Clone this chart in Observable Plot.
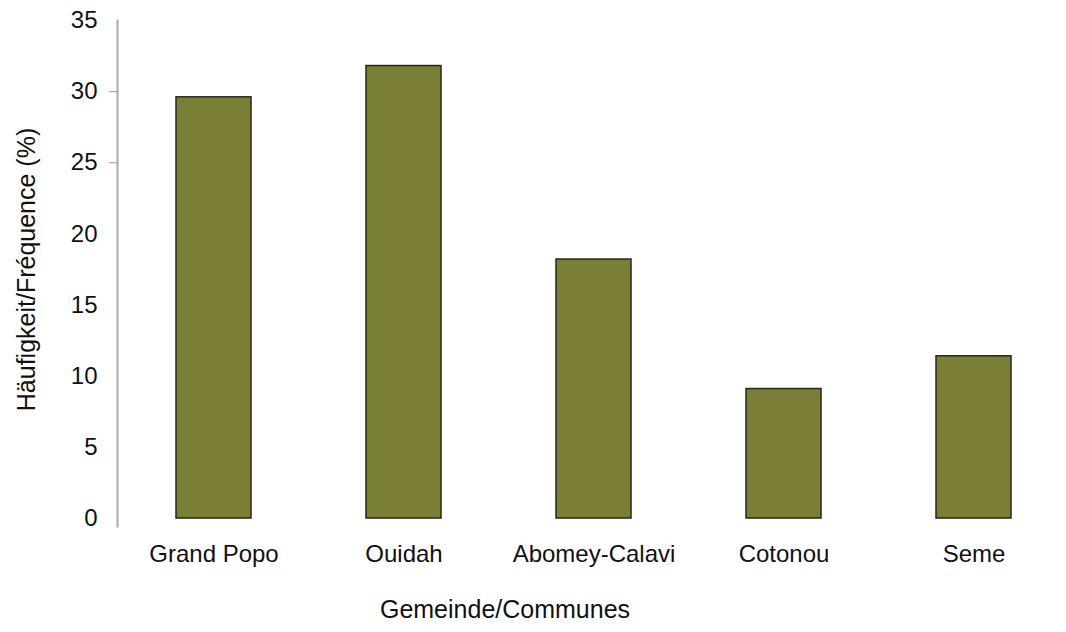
<!DOCTYPE html>
<html>
<head>
<meta charset="utf-8">
<script src="https://cdn.jsdelivr.net/npm/d3@7"></script>
<script src="https://cdn.jsdelivr.net/npm/@observablehq/plot@0.6"></script>
<style>
  html, body { margin: 0; padding: 0; background: #fff; }
  svg { font-family: "Liberation Sans", Arial, sans-serif; }
</style>
</head>
<body>
<div id="chart"></div>
<script>
const communes = ["Grand Popo", "Ouidah", "Abomey-Calavi", "Cotonou", "Seme"];
const frequence = [29.6, 31.8, 18.2, 9.1, 11.4];
const yTicks = [0, 5, 10, 15, 20, 25, 30, 35];
const yTickMarks = [25, 30];
const yTitle = "Häufigkeit/Fréquence (%)";
const xTitle = "Gemeinde/Communes";

const data = communes.map((c, i) => ({commune: c, value: frequence[i]}));

const chart = Plot.plot({
  width: 1066,
  height: 632,
  marginTop: 20,
  marginBottom: 114,
  marginLeft: 117,
  marginRight: 0,
  style: {fontSize: "24px", fontFamily: "'Liberation Sans', Arial, sans-serif", color: "#111", background: "#fff"},
  x: {domain: communes, range: [116, 1070], paddingInner: 0.607, paddingOuter: 0.3035, label: null},
  y: {domain: [0, 35], label: null},
  marks: [
    Plot.frame({anchor: "left", stroke: "#aaa", strokeWidth: 2, insetBottom: -8}),
    Plot.barY(data, {x: "commune", y: "value", fill: "#7a7f35", stroke: "#262619", strokeWidth: 1.5}),
    Plot.axisY({ticks: yTicks, tickSize: 0, tickPadding: 20, label: null}),
    Plot.axisY({ticks: yTickMarks, tickSize: 8, stroke: "#999", tickFormat: () => "", label: null}),
    Plot.axisX({tickSize: 0, tickPadding: 26, label: null}),
    Plot.text([yTitle], {frameAnchor: "left", textAnchor: "middle", rotate: -90, dx: -91, fontSize: 25}),
    Plot.text([xTitle], {frameAnchor: "bottom", textAnchor: "middle", dx: -87, dy: 99, fontSize: 25})
  ]
});
document.getElementById("chart").appendChild(chart);
</script>
</body>
</html>
